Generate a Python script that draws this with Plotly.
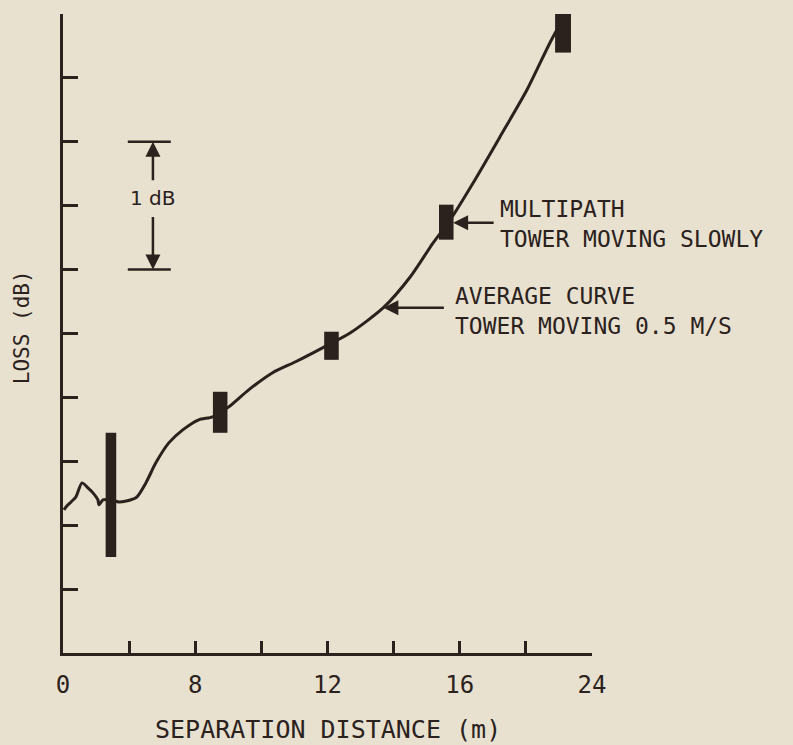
import plotly.graph_objects as go

# x positions are in axis-tick units (9 evenly spaced ticks, labelled 0..24)
tick_pos = [0, 1, 2, 3, 4, 5, 6, 7, 8]
tick_labels = ["0", "", "8", "", "12", "", "16", "", "24"]

# average curve (tower moving 0.5 m/s), loss in dB above the axis bottom
curve_x = [0.015, 0.045, 0.121, 0.196, 0.287, 0.377, 0.453, 0.528, 0.543, 0.604,
           0.725, 0.845, 1.102, 1.253, 1.404, 1.600, 1.811, 2.053, 2.264, 2.506,
           2.808, 3.170, 3.517, 3.925, 4.347, 4.845, 5.253, 5.600, 5.857, 6.204,
           6.611, 7.019, 7.366, 7.600]
curve_loss = [1.120, 1.143, 1.182, 1.222, 1.331, 1.292, 1.253, 1.198, 1.159, 1.198,
              1.198, 1.182, 1.214, 1.331, 1.488, 1.644, 1.746, 1.825, 1.848, 1.926,
              2.059, 2.193, 2.279, 2.388, 2.506, 2.702, 2.944, 3.211, 3.391, 3.680,
              4.041, 4.409, 4.777, 5.000]

# multipath spread (tower moving slowly)
mp_x = [0.725, 2.377, 4.060, 5.796, 7.562]
mp_low = [0.752, 1.723, 2.294, 3.234, 4.698]
mp_high = [1.723, 2.044, 2.514, 3.508, 5.059]

ink = "#2b211d"
paper = "#e8e1cf"
mono = "DejaVu Sans Mono"

fig = go.Figure()

fig.add_trace(go.Bar(
    x=mp_x,
    y=[h - l for h, l in zip(mp_high, mp_low)],
    base=mp_low,
    width=[0.16, 0.22, 0.22, 0.22, 0.24],
    marker=dict(color=ink, line=dict(width=0)),
    cliponaxis=False,
    showlegend=False,
))

fig.add_trace(go.Scatter(
    x=curve_x, y=curve_loss,
    mode="lines",
    line=dict(color=ink, width=3, shape="spline", smoothing=0.7),
    showlegend=False,
))

# 1 dB scale bracket
for yb in [4.0, 3.0]:
    fig.add_shape(type="line", x0=0.98, x1=1.63, y0=yb, y1=yb,
                  line=dict(color=ink, width=2.5))
fig.add_annotation(x=1.36, y=4.0, ax=0, ay=40, text="", showarrow=True,
                   arrowhead=2, arrowsize=1.2, arrowwidth=2.5, arrowcolor=ink)
fig.add_annotation(x=1.36, y=3.0, ax=0, ay=-54, text="", showarrow=True,
                   arrowhead=2, arrowsize=1.2, arrowwidth=2.5, arrowcolor=ink)
fig.add_annotation(x=1.36, y=3.56, text="1 dB", showarrow=False,
                   font=dict(family="DejaVu Sans", size=20, color=ink))

# callouts
fig.add_annotation(x=5.90, y=3.367, ax=42, ay=0, text="", showarrow=True,
                   arrowhead=2, arrowsize=1.2, arrowwidth=2.5, arrowcolor=ink)
fig.add_annotation(x=6.58, y=3.36, text="MULTIPATH<br>TOWER MOVING SLOWLY",
                   showarrow=False, xanchor="left", yanchor="middle", align="left",
                   font=dict(family=mono, size=23, color=ink))
fig.add_annotation(x=4.845, y=2.702, ax=62, ay=0, text="", showarrow=True,
                   arrowhead=2, arrowsize=1.2, arrowwidth=2.5, arrowcolor=ink)
fig.add_annotation(x=5.90, y=2.68, text="AVERAGE CURVE<br>TOWER MOVING 0.5 M/S",
                   showarrow=False, xanchor="left", yanchor="middle", align="left",
                   font=dict(family=mono, size=23, color=ink))

# axis titles
fig.add_annotation(x=0.5, y=-0.1205, xref="paper", yref="paper",
                   text="SEPARATION DISTANCE (m)", showarrow=False,
                   yanchor="middle", font=dict(family=mono, size=25, color=ink))
fig.add_annotation(x=-0.0774, y=0.51, xref="paper", yref="paper",
                   text="LOSS (dB)", textangle=-90, showarrow=False,
                   xanchor="center", yanchor="middle",
                   font=dict(family=mono, size=21, color=ink))

fig.update_layout(
    width=793, height=745,
    margin=dict(l=63, r=201, t=14, b=92),
    paper_bgcolor=paper, plot_bgcolor=paper,
    font=dict(family=mono, color=ink),
    xaxis=dict(range=[0, 8], tickvals=tick_pos, ticktext=tick_labels,
               ticks="inside", ticklen=12, tickwidth=2.5, tickcolor=ink,
               showline=True, linewidth=2.5, linecolor=ink,
               showgrid=False, zeroline=False, ticklabelstandoff=8,
               tickfont=dict(family=mono, size=24, color=ink)),
    yaxis=dict(range=[0, 5], dtick=0.5, tick0=0,
               ticks="inside", ticklen=15, tickwidth=2.5, tickcolor=ink,
               showline=True, linewidth=2.5, linecolor=ink,
               showgrid=False, zeroline=False, showticklabels=False),
)

# drop the browser's default page margin so the figure fills the window
fig.write_html("out.html", config={"displayModeBar": False},
               post_script="document.body.style.margin='0';document.body.style.overflow='hidden';")
